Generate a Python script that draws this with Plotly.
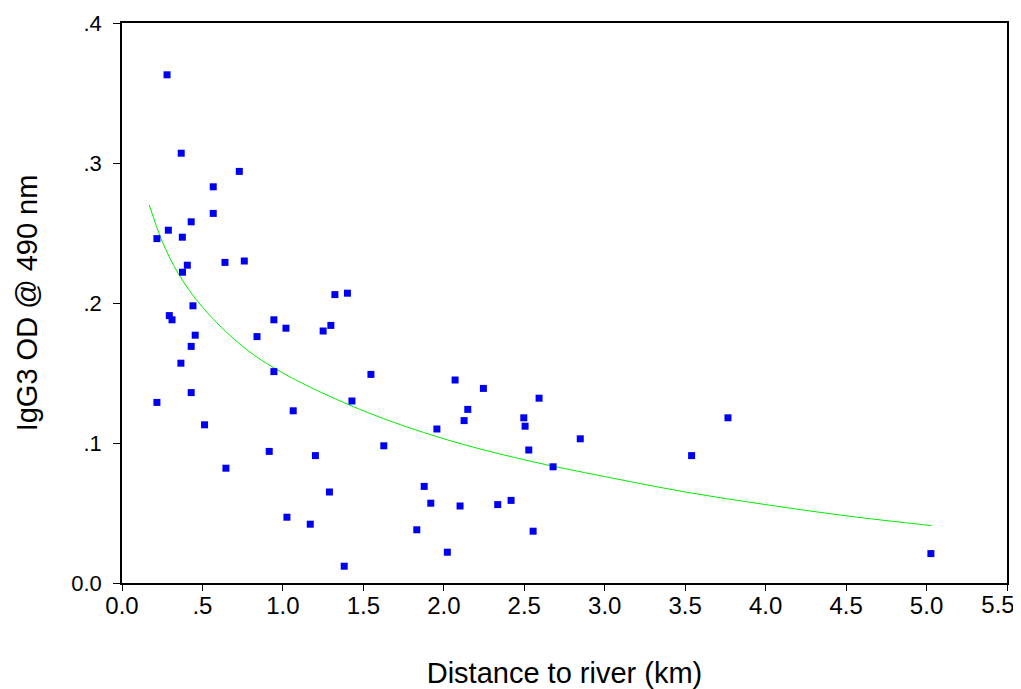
import plotly.graph_objects as go

# distance to river (km) and IgG3 OD
distance = [0.280, 0.368, 0.729, 0.567, 0.567, 0.430, 0.288, 0.217, 0.375, 0.406,
            0.376, 0.640, 0.760, 1.323, 1.401, 0.441, 0.294, 0.311, 0.944, 1.019,
            0.455, 0.839, 0.430, 1.250, 1.298, 0.366, 0.217, 0.430, 0.513, 0.944,
            1.547, 1.429, 1.064, 1.627, 0.915, 1.202, 0.646, 1.289, 1.025, 1.170,
            1.381, 1.832, 2.070, 2.246, 2.592, 2.149, 2.126, 2.497, 2.505, 1.957,
            2.848, 2.528, 2.679, 3.540, 3.766, 1.878, 1.919, 2.101, 2.335, 2.418,
            2.555, 2.022, 5.027]
igg3_od = [0.363, 0.307, 0.294, 0.283, 0.264, 0.258, 0.252, 0.246, 0.247, 0.227,
           0.222, 0.229, 0.230, 0.206, 0.207, 0.198, 0.191, 0.188, 0.188, 0.182,
           0.177, 0.176, 0.169, 0.180, 0.184, 0.157, 0.129, 0.136, 0.113, 0.151,
           0.149, 0.130, 0.123, 0.098, 0.094, 0.091, 0.082, 0.065, 0.047, 0.042,
           0.012, 0.038, 0.145, 0.139, 0.132, 0.124, 0.116, 0.118, 0.112, 0.110,
           0.103, 0.095, 0.083, 0.091, 0.118, 0.069, 0.057, 0.055, 0.056, 0.059,
           0.037, 0.022, 0.021]

# fitted curve
fit_x = [0.17, 0.25, 0.35, 0.5, 0.75, 1.0, 1.5, 2.0, 2.5, 3.0, 3.5, 4.0, 4.5, 5.03]
fit_y = [0.270, 0.244, 0.221, 0.197, 0.169, 0.150, 0.123, 0.103, 0.088, 0.076,
         0.065, 0.056, 0.048, 0.041]

x_ticks = [0, 0.5, 1, 1.5, 2, 2.5, 3, 3.5, 4, 4.5, 5, 5.5]
x_labels = ['0.0', '.5', '1.0', '1.5', '2.0', '2.5', '3.0', '3.5', '4.0', '4.5', '5.0', '']
# last label goes on an overlay axis so it can sit a bit left of its tick
x_last_tick = [5.5]
x_last_label = ['5.5']
y_ticks = [0, 0.1, 0.2, 0.3, 0.4]
y_labels = ['0.0', '.1', '.2', '.3', '.4']

pts = go.Scatter(x=distance, y=igg3_od, mode='markers',
                 marker=dict(symbol='square', size=7, color='#0000f0',
                             line=dict(width=0)),
                 showlegend=False)
fit = go.Scatter(x=fit_x, y=fit_y, mode='lines', line_shape='spline',
                 line=dict(color='#00ee00', width=1), showlegend=False)

font = dict(family='Liberation Sans, Arial, sans-serif', size=24, color='black')

# the page body adds 8px around the figure, so the figure is 8px smaller
layout = go.Layout(
    width=1013, height=681,
    margin=dict(l=114, r=14, t=15, b=106),
    paper_bgcolor='white', plot_bgcolor='white',
    font=font,
    xaxis=dict(range=[0, 5.5], tickvals=x_ticks, ticktext=x_labels,
               automargin=False, tickfont=dict(size=24),
               showgrid=False, zeroline=False, showline=True, mirror=True,
               linecolor='black', linewidth=1.5, ticks='outside', ticklen=6,
               tickcolor='black', ticklabelstandoff=-6,
               title=dict(text='Distance to river (km)', standoff=54,
                          font=dict(size=29))),
    xaxis2=dict(range=[0, 5.5], overlaying='x', side='bottom', anchor='y',
                tickvals=x_last_tick, ticktext=x_last_label,
                automargin=False, tickfont=dict(size=24),
                ticklabeloverflow='allow', ticklabelshift=-9,
                showgrid=False, zeroline=False, showline=False,
                ticks='outside', ticklen=6, tickcolor='rgba(0,0,0,0)',
                ticklabelstandoff=-6),
    yaxis=dict(range=[0, 0.4], tickvals=y_ticks, ticktext=y_labels,
               automargin=False, tickfont=dict(size=22),
               showgrid=False, zeroline=False, showline=True, mirror=True,
               linecolor='black', linewidth=1.5, ticks='outside', ticklen=7,
               tickcolor='black', ticklabelstandoff=7,
               title=dict(text='IgG3 OD @ 490 nm', standoff=25,
                          font=dict(size=29))),
)

fig = go.Figure(data=[fit, pts], layout=layout)
# empty trace so the overlay axis is drawn
fig.add_trace(go.Scatter(x=[], y=[], xaxis='x2', yaxis='y', showlegend=False))
fig.write_html('out.html')
